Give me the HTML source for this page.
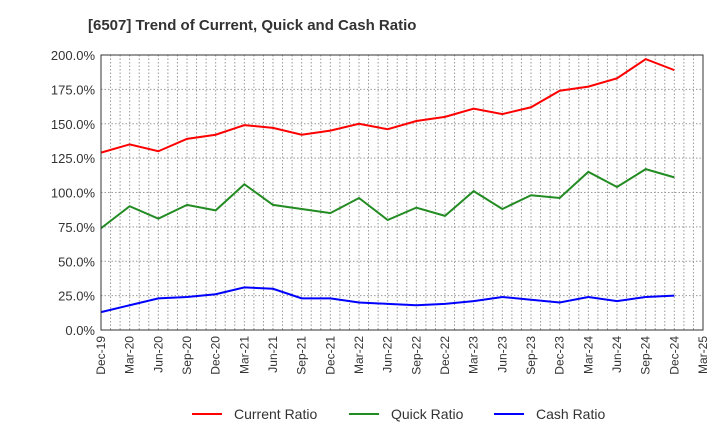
<!DOCTYPE html>
<html><head><meta charset="utf-8"><style>
body{margin:0;background:#fff;font-family:"Liberation Sans",Arial,sans-serif;}
</style></head><body>
<svg width="720" height="440" xmlns="http://www.w3.org/2000/svg">
<text x="88" y="30" font-size="15" font-weight="bold" fill="#333">[6507]  Trend of Current, Quick and Cash Ratio</text>
<g id="grid"></g>
<g id="yaxis"></g>
<g id="xaxis"></g>
<g id="series"></g>
<rect x="101" y="55" width="602" height="275" fill="none" stroke="#333" stroke-width="1"/>
<g>
<g><line x1="192" y1="414" x2="222" y2="414" stroke="#f00" stroke-width="2"/><text x="234" y="419" font-size="14" fill="#333">Current Ratio</text></g>
<g><line x1="349" y1="414" x2="379" y2="414" stroke="#228b22" stroke-width="2"/><text x="391" y="419" font-size="14" fill="#333">Quick Ratio</text></g>
<g><line x1="494" y1="414" x2="524" y2="414" stroke="#00f" stroke-width="2"/><text x="536" y="419" font-size="14" fill="#333">Cash Ratio</text></g>
</g>
</svg>
<script>
const categories=["Dec-19","Mar-20","Jun-20","Sep-20","Dec-20","Mar-21","Jun-21","Sep-21","Dec-21","Mar-22","Jun-22","Sep-22","Dec-22","Mar-23","Jun-23","Sep-23","Dec-23","Mar-24","Jun-24","Sep-24","Dec-24","Mar-25"];
const currentRatio=[129,135,130,139,142,149,147,142,145,150,146,152,155,161,157,162,174,177,183,197,189];
const quickRatio=[74,90,81,91,87,106,91,88,85,96,80,89,83,101,88,98,96,115,104,117,111];
const cashRatio=[13,18,23,24,26,31,30,23,23,20,19,18,19,21,24,22,20,24,21,24,25];
const yTicks=[0,25,50,75,100,125,150,175,200];
const NS="http://www.w3.org/2000/svg";
const L=101,R=703,T=55,B=330;
const step=(R-L)/(categories.length-1);
const xs=i=>L+i*step;
const ys=v=>B-(v/200)*(B-T);
function mk(tag,attrs,parent){const e=document.createElementNS(NS,tag);for(const k in attrs)e.setAttribute(k,attrs[k]);parent.appendChild(e);return e;}
const grid=document.getElementById('grid'),ya=document.getElementById('yaxis'),xa=document.getElementById('xaxis'),sg=document.getElementById('series');
for(let m=1;m<(categories.length-1)*3;m++){const x=L+m*step/3;
const g=mk('line',{x1:x,x2:x,y1:T,y2:B,stroke:'#999','stroke-dasharray':'1.5,2','stroke-width':1},grid);

}
yTicks.forEach(v=>{const y=ys(v);
const g=mk('line',{x1:L,x2:R,y1:y,y2:y,stroke:'#999','stroke-dasharray':'1.5,2','stroke-width':1},grid);


const t=mk('text',{x:L-6,y:y+5,'text-anchor':'end','font-size':13,fill:'#333'},ya);t.textContent=v.toFixed(1)+'%';

});
categories.forEach((c,i)=>{const x=xs(i);
const t=mk('text',{x:x+4,y:B+6,'text-anchor':'end','font-size':12,fill:'#333',transform:`rotate(-90 ${x+4} ${B+6})`},xa);t.textContent=c;

});
[[currentRatio,'#f00','current-ratio-line'],[quickRatio,'#228b22','quick-ratio-line'],[cashRatio,'#00f','cash-ratio-line']].forEach(([d,c,n])=>{
const p=mk('polyline',{points:d.map((v,i)=>xs(i)+','+ys(v)).join(' '),fill:'none',stroke:c,'stroke-width':2},sg);

});
</script>
</body></html>
